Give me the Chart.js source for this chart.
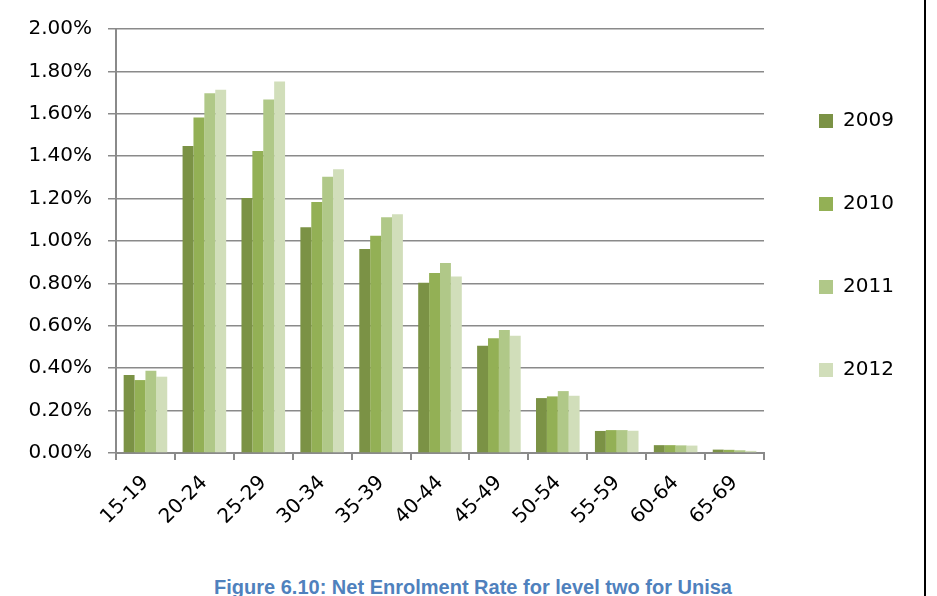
<!DOCTYPE html>
<html lang="en">
<head>
    <meta charset="UTF-8">
    <title>Net Enrolment Rate for level two for Unisa</title>
    <script src="https://cdn.jsdelivr.net/npm/chart.js"></script>
    <style>
        body {
            margin: 0;
            background: #fff;
        }
        .page {
            position: relative;
            width: 924px;
            height: 596px;
            border-right: 2px solid #000;
            overflow: hidden;
        }
        .caption {
            position: absolute;
            left: 0;
            width: 946px;
            top: 576px;
            text-align: center;
            font-family: "Liberation Sans", Arial, sans-serif;
            font-weight: bold;
            font-size: 20px;
            line-height: 22px;
            color: #4f81bd;
        }
    </style>
</head>
<body>
    <div class="page">
        <canvas id="chart" width="924" height="530"></canvas>
        <div class="caption">Figure 6.10: Net Enrolment Rate for level two for Unisa</div>
    </div>

    <script>
        const ageGroups = ['15-19', '20-24', '25-29', '30-34', '35-39', '40-44', '45-49', '50-54', '55-59', '60-64', '65-69'];
        const years = ['2009', '2010', '2011', '2012'];

        // net enrolment rate in percent
        const rate2009 = [0.368, 1.448, 1.203, 1.065, 0.962, 0.803, 0.506, 0.259, 0.104, 0.037, 0.016];
        const rate2010 = [0.344, 1.583, 1.425, 1.184, 1.025, 0.849, 0.541, 0.267, 0.108, 0.037, 0.015];
        const rate2011 = [0.388, 1.697, 1.668, 1.303, 1.112, 0.896, 0.580, 0.292, 0.108, 0.036, 0.013];
        const rate2012 = [0.360, 1.714, 1.752, 1.338, 1.126, 0.832, 0.553, 0.270, 0.105, 0.035, 0.010];

        const yTicks = [0, 0.2, 0.4, 0.6, 0.8, 1.0, 1.2, 1.4, 1.6, 1.8, 2.0];

        const colors = ['#7b9245', '#93b055', '#b0c888', '#d1deba'];
        const series = [rate2009, rate2010, rate2011, rate2012];

        const font = { family: 'DejaVu Sans', size: 20 };

        // move the legend column to where the original sits
        const legendNudge = {
            id: 'legendNudge',
            afterLayout(chart) {
                const lg = chart.legend;
                lg.left -= 8;
                lg.right -= 8;
                lg.top -= 34;
                lg.bottom -= 34;
            }
        };

        new Chart(document.getElementById('chart').getContext('2d'), {
            type: 'bar',
            data: {
                labels: ageGroups,
                datasets: years.map((year, i) => ({
                    label: year,
                    data: series[i],
                    backgroundColor: colors[i],
                    borderWidth: 0,
                    inflateAmount: 0,
                    categoryPercentage: 0.74,
                    barPercentage: 1.0
                }))
            },
            options: {
                responsive: false,
                animation: false,
                layout: {
                    padding: { top: 29, left: 0, right: 20, bottom: 0 }
                },
                plugins: {
                    tooltip: { enabled: false },
                    legend: {
                        position: 'right',
                        maxWidth: 140,
                        labels: {
                            font: font,
                            color: '#000',
                            boxWidth: 14,
                            boxHeight: 14,
                            padding: 63
                        }
                    }
                },
                scales: {
                    x: {
                        afterFit: s => { s.height = 77; },
                        grid: {
                            offset: true,
                            drawOnChartArea: false,
                            color: '#8a8a8a',
                            lineWidth: 2,
                            tickLength: 7
                        },
                        border: { color: '#8a8a8a', width: 2 },
                        ticks: {
                            font: font,
                            color: '#000',
                            minRotation: 45,
                            maxRotation: 45,
                            padding: 11
                        }
                    },
                    y: {
                        min: 0,
                        max: 2,
                        afterFit: s => { s.width = 116; },
                        afterBuildTicks: s => { s.ticks = yTicks.map(v => ({ value: v })); },
                        grid: {
                            color: '#8a8a8a',
                            lineWidth: 1.5,
                            tickLength: 8
                        },
                        border: { color: '#8a8a8a', width: 2 },
                        ticks: {
                            font: font,
                            color: '#000',
                            padding: 16,
                            callback: v => v.toFixed(2) + '%'
                        }
                    }
                }
            },
            plugins: [legendNudge]
        });
    </script>
</body>
</html>
